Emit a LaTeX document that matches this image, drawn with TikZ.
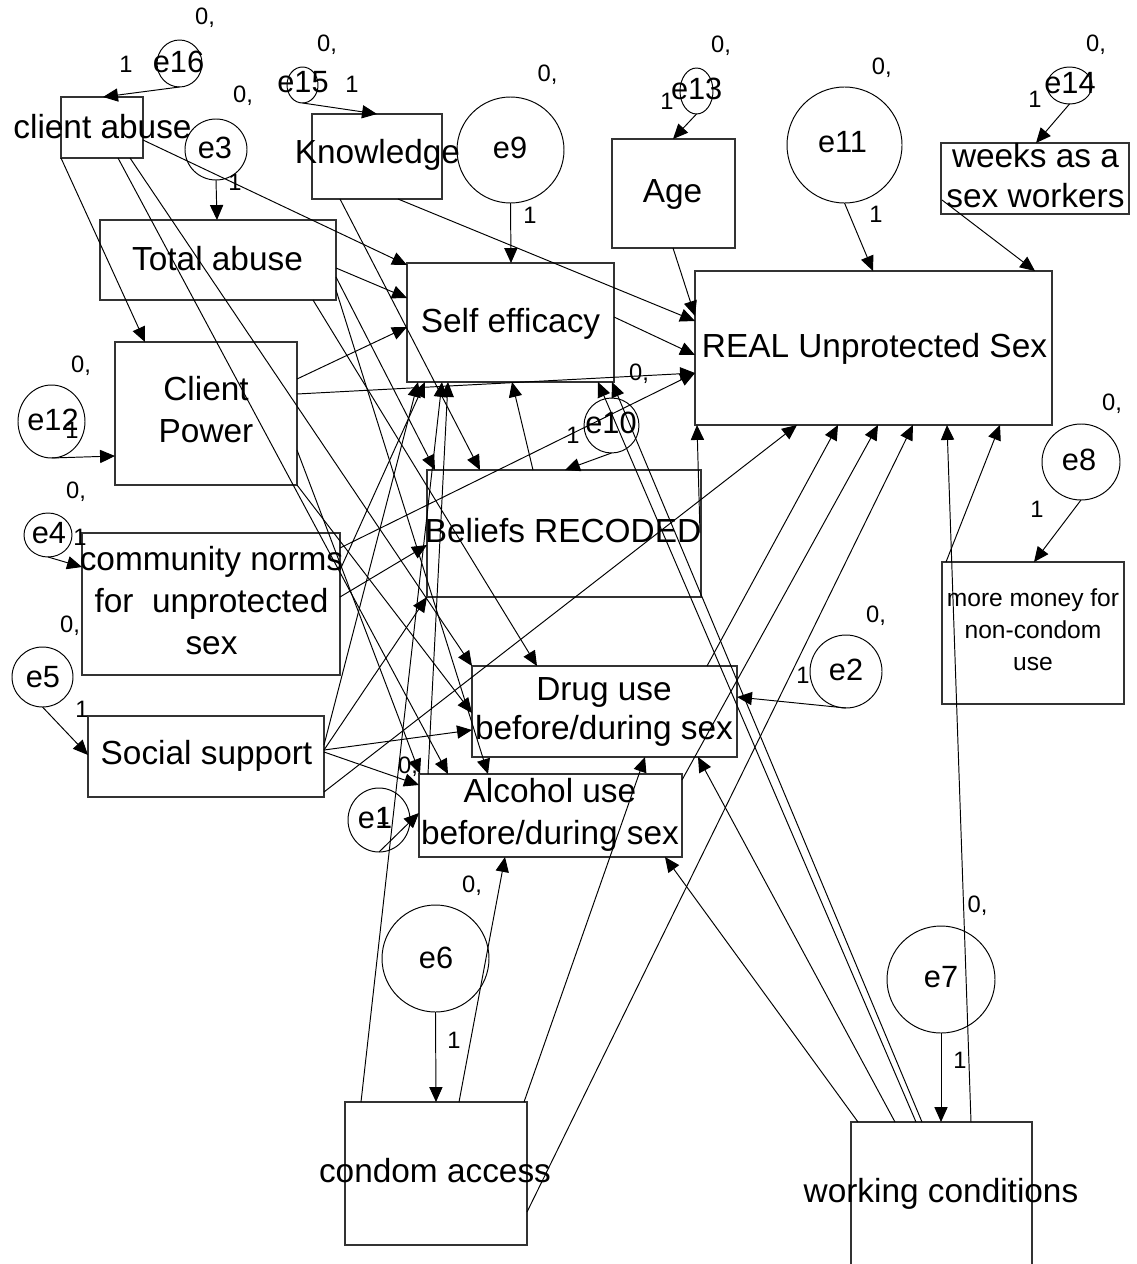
\documentclass[tikz,border=0pt]{standalone}
\usepackage{fontspec}
\setmainfont{Liberation Sans}
\usetikzlibrary{arrows.meta,shapes.geometric,calc}
\begin{document}
\begin{tikzpicture}[x=0.02cm,y=-0.02cm,
  bx/.style n args={2}{draw=black!80,line width=0.6pt,rectangle,inner sep=0pt,outer sep=0pt,minimum width=#1*0.02cm,minimum height=#2*0.02cm},
  ov/.style n args={2}{draw=black,line width=0.55pt,ellipse,inner sep=0pt,outer sep=0pt,minimum width=#1*0.02cm,minimum height=#2*0.02cm},
  lab/.style={anchor=base,inner sep=0pt,font=\fontsize{19}{22.7}\selectfont},
  elab/.style={anchor=base,inner sep=0pt,font=\fontsize{17.5}{20}\selectfont},
  num/.style={anchor=base,inner sep=0pt,font=\fontsize{13.5}{16}\selectfont},
  arr/.style={-{Triangle[length=8.5pt,width=7.5pt]},line width=0.55pt},
]
\fill[white] (0,0) rectangle (1136,1264);
\useasboundingbox (0,0) rectangle (1136,1264);

% ---------- observed variables (boxes)
\node[bx={82}{61}]   (ca)   at (102,127.5)   {};
\node[bx={130}{85}]  (kn)   at (377,156.5)   {};
\node[bx={236}{80}]  (ta)   at (218,260)     {};
\node[bx={123}{109}] (age)  at (673.5,193.5) {};
\node[bx={188}{71}]  (wk)   at (1035,178.5)  {};
\node[bx={207}{119}] (se)   at (510.5,322.5) {};
\node[bx={357}{154}] (real) at (873.5,348)   {};
\node[bx={182}{143}] (cp)   at (206,413.5)   {};
\node[bx={274}{127}] (be)   at (564,533.5)   {};
\node[bx={258}{142}] (cn)   at (211,604)     {};
\node[bx={182}{142}] (mm)   at (1033,633)    {};
\node[bx={236}{81}]  (ss)   at (206,756.5)   {};
\node[bx={265}{91}]  (du)   at (604.5,711.5) {};
\node[bx={263}{83}]  (al)   at (550.5,815.5) {};
\node[bx={182}{143}] (cd)   at (436,1173.5)  {};
\node[bx={181}{153}] (wc)   at (941.5,1198.5){};

% ---------- error terms
\node[ov={45}{47}]   (e16) at (179.5,63.5) {};
\node[ov={31}{36}]   (e15) at (302.5,85)   {};
\node[ov={62}{61}]   (e3)  at (216,149.5)  {};
\node[ov={107}{106}] (e9)  at (510.5,150)  {};
\node[ov={33}{46}]   (e13) at (696.5,91)   {};
\node[ov={115}{116}] (e11) at (844.5,145)  {};
\node[ov={45}{37}]   (e14) at (1069.5,85.5){};
\node[ov={67}{73}]   (e12) at (51.5,421.5) {};
\node[ov={48}{44}]   (e4)  at (48,535)     {};
\node[ov={61}{60}]   (e5)  at (42.5,677)   {};
\node[ov={62}{64}]   (e1)  at (379,820)    {};
\node[ov={55}{55}]   (e10) at (611.5,425.5){};
\node[ov={72}{73}]   (e2)  at (846,671.5)  {};
\node[ov={78}{76}]   (e8)  at (1081,462)   {};
\node[ov={107}{107}] (e6)  at (435.5,958.5){};
\node[ov={108}{107}] (e7)  at (941,979.5)  {};

% ---------- error paths
\draw[arr] (e16.south) -- ($(ca.north west)+(42,0)$);
\draw[arr] (e15.south) -- ($(kn.north west)+(65,0)$);
\draw[arr] (e3.south)  -- ($(ta.north west)+(117,0)$);
\draw[arr] (e9.south)  -- ($(se.north west)+(104,0)$);
\draw[arr] (e13.south) -- ($(age.north west)+(61,0)$);
\draw[arr] (e11.south) -- ($(real.north west)+(178,0)$);
\draw[arr] (e14.south) -- ($(wk.north west)+(95,0)$);
\draw[arr] (e12.south) -- ($(cp.north west)+(0,114)$);
\draw[arr] (e4.south)  -- ($(cn.north west)+(0,34)$);
\draw[arr] (e5.south)  -- ($(ss.north west)+(0,39)$);
\draw[arr] (e1.south)  -- ($(al.north west)+(0,39)$);
\draw[arr] (e10.south) -- ($(be.north west)+(138,0)$);
\draw[arr] (e2.south)  -- ($(du.north west)+(265,31)$);
\draw[arr] (e8.south)  -- ($(mm.north west)+(92,0)$);
\draw[arr] (e6.south)  -- ($(cd.north west)+(91,0)$);
\draw[arr] (e7.south)  -- ($(wc.north west)+(90,0)$);

% ---------- structural paths
\draw[arr] ($(wk.north west)+(1,57)$)    -- ($(real.north west)+(340,0)$);
\draw[arr] ($(ca.north west)+(82,43)$)   -- ($(se.north west)+(0,2)$);
\draw[arr] ($(ca.north west)+(0,61)$)    -- ($(cp.north west)+(30,0)$);
\draw[arr] ($(ca.north west)+(57,61)$)   -- ($(al.north west)+(29,0)$);
\draw[arr] ($(ca.north west)+(69,61)$)   -- (du.north west);
\draw[arr] ($(kn.north west)+(28,85)$)   -- ($(be.north west)+(53,0)$);
\draw[arr] ($(kn.north west)+(86,85)$)   -- ($(real.north west)+(0,50)$);
\draw[arr] ($(ta.north west)+(236,48)$)  -- ($(se.north west)+(0,35)$);
\draw[arr] ($(ta.north west)+(236,57)$)  -- ($(be.north west)+(8,0)$);
\draw[arr] ($(ta.north west)+(213,80)$)  -- ($(du.north west)+(65,0)$);
\draw[arr] ($(ta.north west)+(236,70)$)  -- ($(al.north west)+(69,0)$);
\draw[arr] ($(age.north west)+(61,109)$) -- ($(real.north west)+(0,45)$);
\draw[arr] ($(cp.north west)+(182,37)$)  -- ($(se.north west)+(0,64)$);
\draw[arr] ($(cp.north west)+(182,52)$)  -- ($(real.north west)+(0,102)$);
\draw[arr] ($(cp.north west)+(182,143)$) -- ($(du.north west)+(0,47)$);
\draw[arr] ($(cp.north west)+(182,108)$) -- ($(al.north west)+(1,0)$);
\draw[arr] ($(cn.north west)+(258,64)$)  -- ($(be.north west)+(0,75)$);
\draw[arr] ($(cn.north west)+(258,15)$)  -- ($(real.north west)+(0,102)$);
\draw[arr] ($(cn.north west)+(258,37)$)  -- ($(se.north west)+(18,119)$);
\draw[arr] ($(ss.north west)+(236,29)$)  -- ($(se.north west)+(11,119)$);
\draw[arr] ($(ss.north west)+(236,34)$)  -- ($(be.north west)+(0,127)$);
\draw[arr] ($(ss.north west)+(236,34)$)  -- ($(du.north west)+(0,64)$);
\draw[arr] ($(ss.north west)+(236,36)$)  -- ($(al.north west)+(0,11)$);
\draw[arr] ($(ss.north west)+(236,76)$)  -- ($(real.north west)+(102,154)$);
\draw[arr] ($(be.north west)+(106,0)$)   -- ($(se.north west)+(105,119)$);
\draw[arr] ($(be.north west)+(273,63)$)  -- ($(real.north west)+(2,154)$);
\draw[arr] ($(du.north west)+(235,0)$)   -- ($(real.north west)+(143,154)$);
\draw[arr] ($(al.north west)+(263,6)$)   -- ($(real.north west)+(183,154)$);
\draw[arr] ($(al.north west)+(9,0)$)     -- ($(se.north west)+(41,119)$);
\draw[arr] ($(se.north west)+(207,54)$)  -- ($(real.north west)+(0,84)$);
\draw[arr] ($(cd.north west)+(16,0)$)    -- ($(se.north west)+(35,119)$);
\draw[arr] ($(cd.north west)+(114,0)$)   -- ($(al.north west)+(86,83)$);
\draw[arr] ($(cd.north west)+(179,0)$)   -- ($(du.north west)+(173,91)$);
\draw[arr] ($(cd.north west)+(182,110)$) -- ($(real.north west)+(218,154)$);
\draw[arr] ($(wc.north west)+(7,0)$)     -- ($(al.north west)+(246,83)$);
\draw[arr] ($(wc.north west)+(44,0)$)    -- ($(du.north west)+(226,91)$);
\draw[arr] ($(wc.north west)+(71,0)$)    -- ($(se.north west)+(205,119)$);
\draw[arr] ($(wc.north west)+(65,0)$)    -- ($(se.north west)+(191,119)$);
\draw[arr] ($(wc.north west)+(120,0)$)   -- ($(real.north west)+(252,154)$);
\draw[arr] ($(mm.north west)+(4,0)$)     -- ($(real.north west)+(305,154)$);

% ---------- box texts
\node[lab] (tca)   at (102.5,138)  {client abuse};
\node[lab] (tkn)   at (377.5,163)  {Knowledge};
\node[lab] (tta)   at (217.5,270)  {Total abuse};
\node[lab] (tage)  at (672.5,202)  {Age};
\node[lab,font=\fontsize{19}{23.2}\selectfont] (twk) at (1035.5,167) {\begin{tabular}[t]{@{}c@{}}weeks as a\\sex workers\end{tabular}};
\node[lab] (tse)   at (510.5,332)  {Self efficacy};
\node[lab] (treal) at (874.5,357)  {REAL Unprotected Sex};
\node[lab,font=\fontsize{19}{24.4}\selectfont] (tcp) at (206,400) {\begin{tabular}[t]{@{}c@{}}Client\\Power\end{tabular}};
\node[lab] (tbe)   at (563,542)    {Beliefs RECODED};
\node[lab,font=\fontsize{19}{24.1}\selectfont] (tcn) at (211.5,570) {\begin{tabular}[t]{@{}c@{}}community norms\\for\ \ unprotected\\sex\end{tabular}};
\node[lab,font=\fontsize{14}{18.4}\selectfont] (tmm) at (1033,606) {\begin{tabular}[t]{@{}c@{}}more money for\\non-condom\\use\end{tabular}};
\node[lab] (tss)   at (206.5,764)  {Social support};
\node[lab,font=\fontsize{19}{22.7}\selectfont] (tdu) at (604,700) {\begin{tabular}[t]{@{}c@{}}Drug use\\before/during sex\end{tabular}};
\node[lab,font=\fontsize{19}{24.4}\selectfont] (tal) at (550,802) {\begin{tabular}[t]{@{}c@{}}Alcohol use\\before/during sex\end{tabular}};
\node[lab] (tcd)   at (435,1182)   {condom access};
\node[lab] (twc)   at (941,1202)   {working conditions};

% ---------- error labels
\node[elab] (te16) at (178.5,73)  {e16};
\node[elab] (te15) at (303,92)    {e15};
\node[elab] (te3)  at (215,158)   {e3};
\node[elab] (te9)  at (510,158)   {e9};
\node[elab] (te13) at (696.7,100) {e13};
\node[elab] (te11) at (842.5,153) {e11};
\node[elab] (te14) at (1070,93)   {e14};
\node[elab] (te12) at (53,430)    {e12};
\node[elab] (te4)  at (49,543)    {e4};
\node[elab] (te5)  at (43,687)    {e5};
\node[elab] (te1)  at (375,828)   {e1};
\node[elab] (te10) at (611,433)   {e10};
\node[elab] (te2)  at (846,680)   {e2};
\node[elab] (te8)  at (1079,470)  {e8};
\node[elab] (te6)  at (436,968)   {e6};
\node[elab] (te7)  at (941,987)   {e7};

% ---------- means / weights
\node[num] (m16) at (205,25)   {0,};
\node[num] (w16) at (126,73)   {1};
\node[num] (m15) at (327,52)   {0,};
\node[num] (w15) at (352,92)   {1};
\node[num] (m3)  at (243,103)  {0,};
\node[num] (w3)  at (235,190)  {1};
\node[num] (m9)  at (547.5,82) {0,};
\node[num] (w9)  at (530,223)  {1};
\node[num] (m13) at (721,53)   {0,};
\node[num] (w13) at (667,110)  {1};
\node[num] (m11) at (881.7,75) {0,};
\node[num] (w11) at (876,222)  {1};
\node[num] (m14) at (1096,52)  {0,};
\node[num] (w14) at (1035,108) {1};
\node[num] (m12) at (81,372)   {0,};
\node[num] (w12) at (72,438)   {1};
\node[num] (m4)  at (76,498)   {0,};
\node[num] (w4)  at (80,545)   {1};
\node[num] (m5)  at (70,632)   {0,};
\node[num] (w5)  at (82,717)   {1};
\node[num] (m1)  at (408,773)  {0,};
\node[num] (w1)  at (383,824)  {1};
\node[num] (m10) at (639,380)  {0,};
\node[num] (w10) at (573,443)  {1};
\node[num] (m2)  at (876,622)  {0,};
\node[num] (w2)  at (803,683)  {1};
\node[num] (m8)  at (1112,410) {0,};
\node[num] (w8)  at (1037,517) {1};
\node[num] (m6)  at (472,892)  {0,};
\node[num] (w6)  at (454,1048) {1};
\node[num] (m7)  at (977.5,912){0,};
\node[num] (w7)  at (960,1068) {1};
\end{tikzpicture}
\end{document}
